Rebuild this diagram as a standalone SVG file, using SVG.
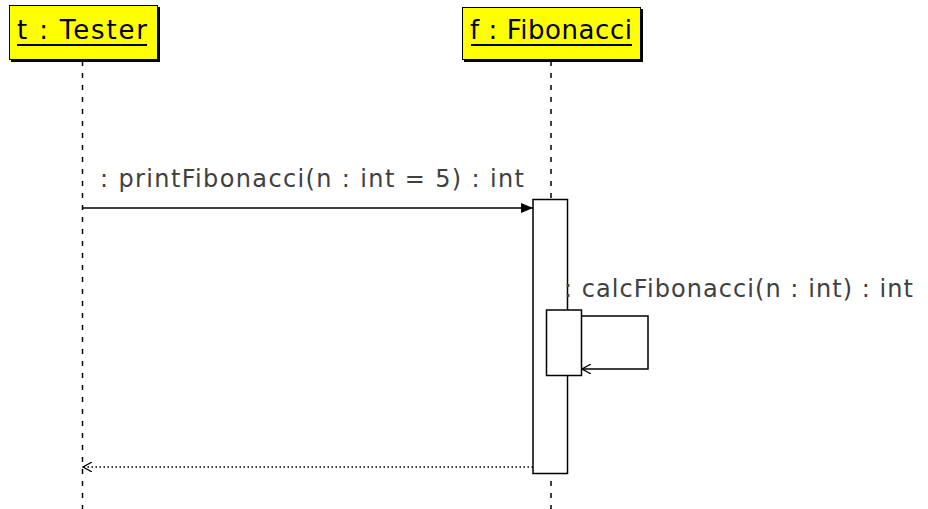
<svg xmlns="http://www.w3.org/2000/svg" width="928" height="509" viewBox="0 0 928 509">
<style>
.obj{fill:#ffff00;stroke:#000;stroke-width:1}
.shadow{fill:#000}
.name{font-family:"DejaVu Sans",sans-serif;font-size:26px;fill:#000}
.ul{stroke:#000;stroke-width:2}
.life{stroke:#000;stroke-width:1.5;stroke-dasharray:5,7;fill:none}
.act{fill:#fff;stroke:#000;stroke-width:1.5}
.msg{stroke:#000;stroke-width:1.5;fill:none}
.ret{stroke:#000;stroke-width:1.5;stroke-dasharray:1.5,2.5;fill:none}
.lbl{font-family:"DejaVu Sans",sans-serif;font-size:24px;fill:#404040}
</style>
<defs>
<marker id="filled" markerWidth="12" markerHeight="10" refX="12" refY="5" orient="auto" markerUnits="userSpaceOnUse">
<path d="M0,0 L12,5 L0,10 Z" fill="#000"/>
</marker>
<marker id="open" markerWidth="10" markerHeight="10" refX="9" refY="5" orient="auto" markerUnits="userSpaceOnUse">
<path d="M0,0 L9,5 L0,10" fill="none" stroke="#000" stroke-width="1.2"/>
</marker>
</defs>
<rect width="928" height="509" fill="#fff"/>
<g id="tester">
<line class="life" x1="82.5" y1="61" x2="82.5" y2="509"/>
<rect class="shadow" x="11" y="7" width="149" height="55"/>
<rect class="obj" x="9.5" y="5.5" width="148" height="54"/>
<text class="name" x="17" y="39" textLength="130" lengthAdjust="spacing">t : Tester</text>
<line class="ul" x1="17" y1="45" x2="147" y2="45"/>
</g>
<g id="fibonacci">
<line class="life" x1="551" y1="61" x2="551" y2="509"/>
<rect class="shadow" x="464" y="9" width="179" height="53"/>
<rect class="obj" x="462.5" y="7.5" width="178" height="52"/>
<text class="name" x="470" y="39" textLength="162" lengthAdjust="spacing">f : Fibonacci</text>
<line class="ul" x1="471" y1="45" x2="632" y2="45"/>
<rect class="act" x="533" y="199.5" width="34.5" height="274"/>
<rect class="act" x="546.5" y="310" width="35" height="65.5"/>
</g>
<g id="connectors">
<line class="msg" x1="82.5" y1="208" x2="533" y2="208" marker-end="url(#filled)"/>
<text class="lbl" x="100" y="186.5" textLength="424" lengthAdjust="spacing">: printFibonacci(n : int = 5) : int</text>
<polyline class="msg" points="581.5,316 648,316 648,369 582,369" marker-end="url(#open)"/>
<text class="lbl" x="564" y="297" textLength="349" lengthAdjust="spacing">: calcFibonacci(n : int) : int</text>
<line class="ret" x1="533" y1="467" x2="83" y2="467" marker-end="url(#open)"/>
</g>
</svg>
